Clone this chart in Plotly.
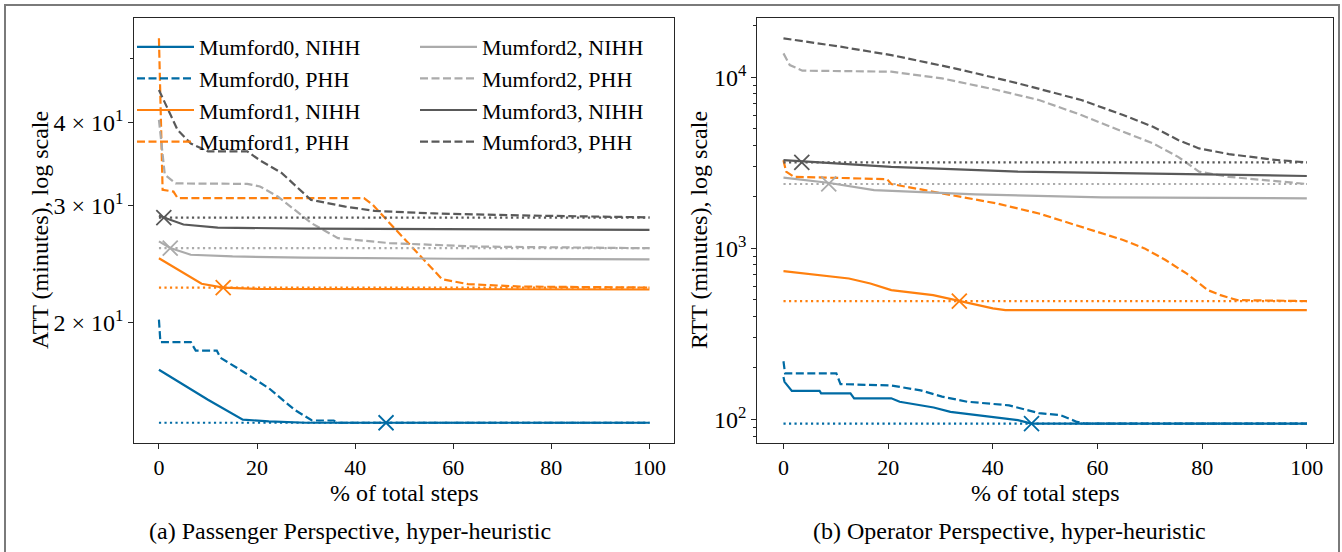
import plotly.graph_objects as go

W, H = 1342, 552

# ---------------- (a) ATT, passenger perspective ----------------
att_m0_nihh_x = [0, 1, 5, 10, 17.1, 22.4, 30, 100]
att_m0_nihh_y = [16.98, 16.8, 16.1, 15.3, 14.28, 14.2, 14.13, 14.13]
att_m0_phh_x = [0, 0.3, 6.5, 7.5, 11.8, 12.5, 17.1, 22.4, 27.7, 31.2, 35.6, 36.5, 100]
att_m0_phh_y = [20.2, 18.69, 18.69, 18.15, 18.15, 17.71, 16.88, 15.93, 14.77, 14.24, 14.24, 14.13, 14.13]
att_m1_nihh_x = [0, 8.7, 13.1, 20, 100]
att_m1_nihh_y = [25.0, 22.88, 22.58, 22.48, 22.43]
att_m1_phh_x = [0, 0.75, 2.96, 3.8, 41.8, 43.6, 47.1, 51.5, 56, 57.7, 63, 73.6, 100]
att_m1_phh_y = [53.6, 31.7, 31.5, 30.8, 30.8, 30.08, 28.2, 26.03, 24.01, 23.25, 22.85, 22.66, 22.58]
att_m2_nihh_x = [0, 2.3, 6.5, 15, 29.5, 60, 100]
att_m2_nihh_y = [26.5, 25.9, 25.3, 25.15, 25.05, 24.95, 24.9]
att_m2_phh_x = [0, 1.2, 3.4, 18, 20.6, 24.2, 31.2, 36.5, 47, 64.8, 100]
att_m2_phh_y = [40.4, 33.4, 32.4, 32.35, 32.06, 30.97, 28.2, 26.8, 26.34, 26.03, 25.88]
att_m3_nihh_x = [0, 1, 5, 12, 30, 60, 100]
att_m3_nihh_y = [29.0, 28.78, 28.1, 27.8, 27.7, 27.62, 27.58]
att_m3_phh_x = [0, 3.8, 6.5, 10, 18, 20.6, 25, 31, 38, 44, 56, 73.6, 100]
att_m3_phh_y = [44.8, 39.0, 37.2, 36.2, 36.2, 35.1, 33.6, 30.6, 29.9, 29.45, 29.2, 29.0, 28.8]
att_baseline = [14.13, 22.58, 25.88, 28.78]
att_cross_x = [46.3, 13.1, 2.3, 1.0]

# ---------------- (b) RTT, operator perspective ----------------
rtt_m0_nihh_x = [0, 0.2, 1.6, 6.9, 7.2, 12.8, 13.5, 20.6, 22.2, 28.7, 31.9, 39.1, 44.8, 47.4, 100]
rtt_m0_nihh_y = [177, 166, 147, 147, 142, 142, 133, 133, 127, 117.5, 110.8, 103.6, 99.1, 94.7, 94.7]
rtt_m0_phh_x = [0, 0.3, 10.1, 10.9, 20.6, 26.2, 30.3, 35.1, 43.1, 48.8, 52.9, 56.1, 57.6, 100]
rtt_m0_phh_y = [219, 186, 186, 161, 158, 148, 136, 127, 121, 109, 106, 96.8, 94.7, 94.7]
rtt_m1_nihh_x = [0, 12.5, 16.6, 20.6, 28.6, 33.6, 40, 42.4, 100]
rtt_m1_nihh_y = [736, 667, 624, 570, 533, 492, 446, 436, 436]
rtt_m1_phh_x = [0, 0.5, 2, 19.8, 20.6, 28.7, 40.8, 48.8, 56.9, 64.9, 69, 73, 77, 81.1, 83.5, 86.7, 100]
rtt_m1_phh_y = [3280, 2810, 2620, 2540, 2380, 2140, 1830, 1600, 1340, 1120, 1000, 855, 714, 570, 533, 499, 492]
rtt_m2_nihh_x = [0, 8.5, 17.3, 36.7, 60.9, 100]
rtt_m2_nihh_y = [2590, 2420, 2190, 2070, 1990, 1960]
rtt_m2_phh_x = [0, 1.2, 3.6, 20.6, 30.3, 40.8, 48.8, 56.9, 64.9, 70.6, 75.4, 79.4, 85.1, 93.2, 100]
rtt_m2_phh_y = [13800, 11800, 10940, 10790, 9860, 8430, 7370, 6020, 4810, 4110, 3430, 2810, 2620, 2475, 2380]
rtt_m3_nihh_x = [0, 20.6, 44.8, 69, 85.1, 100]
rtt_m3_nihh_y = [3280, 3000, 2810, 2750, 2690, 2650]
rtt_m3_phh_x = [0, 10.9, 20.6, 32.7, 44.8, 56.9, 64.9, 70.6, 75.4, 79.4, 85.1, 93.2, 100]
rtt_m3_phh_y = [16900, 15100, 13490, 11290, 9230, 7370, 6020, 5140, 4300, 3840, 3560, 3310, 3180]
rtt_baseline = [94.7, 492, 2380, 3180]
rtt_cross_x = [47.4, 33.6, 8.65, 3.5]

instances = ["Mumford0", "Mumford1", "Mumford2", "Mumford3"]
colors = ["#006BA4", "#FF800E", "#ABABAB", "#595959"]
x_ticks = [0, 20, 40, 60, 80, 100]
att_ticks = [20, 30, 40]
att_tick_text = ["2 × 10<sup>1</sup>", "3 × 10<sup>1</sup>", "4 × 10<sup>1</sup>"]
rtt_ticks = [100, 1000, 10000]
rtt_tick_text = ["10<sup>2</sup>", "10<sup>3</sup>", "10<sup>4</sup>"]

FONT = "Liberation Serif"
FS = 22      # legend, x tick labels
FSA = 24     # y tick labels, axis titles, captions
DASH = "8px,3.5px"
DOT = "2.2px,3.3px"
LW = 2.2

att = [
    (att_m0_nihh_x, att_m0_nihh_y, att_m0_phh_x, att_m0_phh_y),
    (att_m1_nihh_x, att_m1_nihh_y, att_m1_phh_x, att_m1_phh_y),
    (att_m2_nihh_x, att_m2_nihh_y, att_m2_phh_x, att_m2_phh_y),
    (att_m3_nihh_x, att_m3_nihh_y, att_m3_phh_x, att_m3_phh_y),
]
rtt = [
    (rtt_m0_nihh_x, rtt_m0_nihh_y, rtt_m0_phh_x, rtt_m0_phh_y),
    (rtt_m1_nihh_x, rtt_m1_nihh_y, rtt_m1_phh_x, rtt_m1_phh_y),
    (rtt_m2_nihh_x, rtt_m2_nihh_y, rtt_m2_phh_x, rtt_m2_phh_y),
    (rtt_m3_nihh_x, rtt_m3_nihh_y, rtt_m3_phh_x, rtt_m3_phh_y),
]

fig = go.Figure()

def add_panel(data, base, cross, xa, ya, legend_on):
    for i, (nx, ny, px_, py_) in enumerate(data):
        c = colors[i]
        leg = "legend" if i < 2 else "legend2"
        fig.add_trace(go.Scatter(x=nx, y=ny, mode="lines", xaxis=xa, yaxis=ya,
                                 line=dict(color=c, width=LW),
                                 name=f"{instances[i]}, NIHH", showlegend=legend_on,
                                 legend=leg, legendgroup=f"{instances[i]}n"))
        fig.add_trace(go.Scatter(x=px_, y=py_, mode="lines", xaxis=xa, yaxis=ya,
                                 line=dict(color=c, width=LW, dash=DASH),
                                 name=f"{instances[i]}, PHH", showlegend=legend_on,
                                 legend=leg, legendgroup=f"{instances[i]}p"))
        fig.add_trace(go.Scatter(x=[x_ticks[0], x_ticks[-1]], y=[base[i], base[i]], mode="lines",
                                 xaxis=xa, yaxis=ya, showlegend=False,
                                 line=dict(color=c, width=LW, dash=DOT)))
        fig.add_trace(go.Scatter(x=[cross[i]], y=[base[i]], mode="markers",
                                 xaxis=xa, yaxis=ya, showlegend=False,
                                 marker=dict(symbol="x-thin", size=15,
                                             line=dict(color=c, width=1.8))))

add_panel(att, att_baseline, att_cross_x, "x", "y", True)
add_panel(rtt, rtt_baseline, rtt_cross_x, "x2", "y2", False)

def px(x):
    return x / W

def py(y):
    return 1 - y / H

axis_common = dict(showline=True, mirror=True, linecolor="#262626", linewidth=1.2,
                   ticks="outside", ticklen=5, tickwidth=1.1, tickcolor="#262626",
                   showgrid=False, zeroline=False)
xfont = dict(family=FONT, size=FS, color="black")
yfont = dict(family=FONT, size=FSA, color="black")

fig.update_layout(
    width=W, height=H,
    margin=dict(l=0, r=0, t=0, b=0),
    paper_bgcolor="white", plot_bgcolor="white",
    font=dict(family=FONT, size=FS, color="black"),
    xaxis=dict(domain=[px(134.4), px(674)], range=[-5, 105], tickvals=x_ticks,
               anchor="y", tickfont=xfont, **axis_common),
    yaxis=dict(domain=[py(442.5), py(18.3)], type="log", range=[1.1204, 1.7592],
               tickvals=att_ticks, ticktext=att_tick_text, tickfont=yfont,
               minor=dict(tickvals=[50], ticks="outside", ticklen=3, tickwidth=1, tickcolor="#262626"),
               anchor="x", **axis_common),
    xaxis2=dict(domain=[px(757.3), px(1333)], range=[-5, 105], tickvals=x_ticks,
                anchor="y2", tickfont=xfont, **axis_common),
    yaxis2=dict(domain=[py(442.5), py(18.3)], type="log", range=[1.8655, 4.345],
                tickvals=rtt_ticks, ticktext=rtt_tick_text, tickfont=yfont,
                minor=dict(tickvals=[80, 90, 200, 300, 400, 500, 600, 700, 800, 900,
                                     2000, 3000, 4000, 5000, 6000, 7000, 8000, 9000, 20000],
                           ticks="outside", ticklen=3, tickwidth=1, tickcolor="#262626"),
                anchor="x2", **axis_common),
    legend=dict(x=px(132), y=py(26), xanchor="left", yanchor="top", itemwidth=57,
                bgcolor="rgba(0,0,0,0)", borderwidth=0, tracegroupgap=0,
                font=dict(family=FONT, size=FS, color="black")),
    legend2=dict(x=px(415), y=py(26), xanchor="left", yanchor="top", itemwidth=57,
                 bgcolor="rgba(0,0,0,0)", borderwidth=0, tracegroupgap=0,
                 font=dict(family=FONT, size=FS, color="black")),
    showlegend=True,
)

ann = [
    ("% of total steps", 404, 493, 0),
    ("% of total steps", 1045, 493, 0),
    ("(a) Passenger Perspective, hyper-heuristic", 350, 531, 0),
    ("(b) Operator Perspective, hyper-heuristic", 1009, 531, 0),
    ("ATT (minutes), log scale", 40, 230, -90),
    ("RTT (minutes), log scale", 699, 230, -90),
]
for text, x, y, ang in ann:
    fig.add_annotation(text=text, x=px(x), y=py(y), xref="paper", yref="paper",
                       xanchor="center", yanchor="middle", showarrow=False, textangle=ang,
                       font=dict(family=FONT, size=FSA, color="black"))

fig.add_shape(type="rect", xref="paper", yref="paper",
              x0=px(5), x1=px(1339), y0=-0.05, y1=py(5),
              line=dict(color="#7a7a7a", width=2), fillcolor="rgba(0,0,0,0)")

fig.write_html("out.html", config={"displayModeBar": False},
               post_script="document.body.style.margin='0px';document.body.style.overflow='hidden';")
